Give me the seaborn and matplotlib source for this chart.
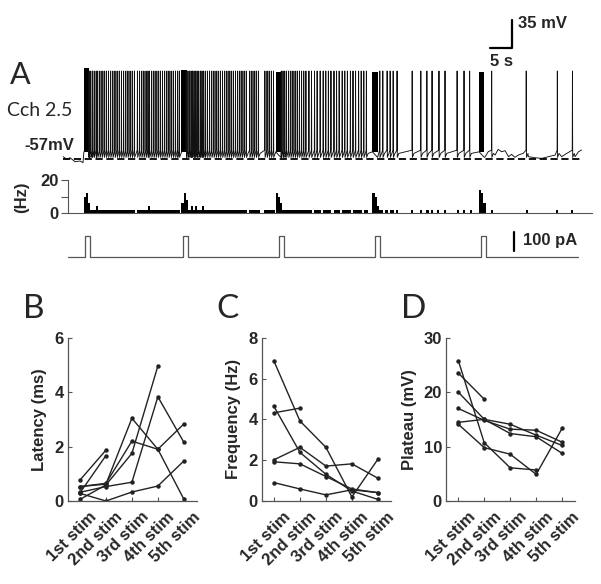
import numpy as np
import pandas as pd
import matplotlib
matplotlib.use("Agg")
import matplotlib.pyplot as plt
import seaborn as sns

sns.set_style("ticks")
plt.rcParams["font.family"] = ["Liberation Sans", "DejaVu Sans"]

# ---------------- data: panel A (times in s, voltage in mV) ----------------
stim_on = [0.5, 23.1, 45.3, 67.6, 92.1]
stim_dur = 1.2
stim_amp = 110           # pA
stim_span = [-3.5, 114.6]

burst_on = [0.2, 22.8, 44.6, 67.0, 91.7]
burst_dur = 1.2
burst_top = [57, 54, 52, 52, 52]
# firing rate (Hz) in 0.5 s bins during each burst
burst_rates = [[10, 12, 6], [6, 12, 8], [12, 10, 6], [12, 10, 4], [14, 12, 6]]

seg1 = [1.4, 1.8, 2.2, 2.6, 3.05, 3.4, 3.9, 4.4, 4.9, 5.4, 5.9, 6.4, 6.9, 7.4,
        7.9, 8.4, 8.9, 9.4, 9.9, 10.4, 10.9, 11.4, 11.9, 12.6, 13.1, 13.6, 14.1,
        14.6, 15.05, 15.4, 15.9, 16.4, 16.9, 17.4, 17.9, 18.4, 18.9, 19.4, 19.9,
        20.4, 20.9, 21.4, 21.9, 22.3]
seg2 = [23.9, 24.3, 24.7, 25.05, 25.35, 25.7, 26.05, 26.4, 26.8, 27.2, 27.55,
        27.9, 28.3, 28.8, 29.3, 29.8, 30.3, 30.8, 31.3, 31.8, 32.3, 32.8, 33.3,
        33.8, 34.3, 34.8, 35.3, 35.8, 36.3, 36.8, 37.3, 37.8, 38.6, 39.1, 39.6,
        40.1, 40.6, 42.1, 42.6, 43.1, 43.6, 44.1]
seg3 = [45.9, 46.3, 46.7, 47.1, 47.6, 48.1, 48.6, 49.1, 49.6, 50.1, 50.6, 51.1,
        51.6, 52.3, 52.9, 53.6, 54.2, 54.9, 55.6, 56.2, 56.8, 57.4, 58.1, 58.7,
        59.3, 60.0, 60.6, 61.2, 61.9, 62.5, 63.1, 63.8, 64.4, 65.0, 65.6]
seg4 = [68.7, 69.4, 70.4, 71.1, 71.8, 72.7, 76.2, 78.2, 79.6, 80.8, 82.4, 83.8,
        86.6, 88.2, 89.5]
seg5 = [94.6, 102.6, 109.8, 113.3]
spike_peak = 53
rest_mv = -57

pre_t = [-4.56, -3.78, -3.0, -1.85, -0.69, 0.0]
pre_v = [-54.1, -57.4, -55.4, -60.4, -59.5, -61.6]
tail_t = [93.1, 93.8, 95.4, 96.1, 96.9, 97.7, 98.5, 99.2, 100.0, 100.8, 101.9,
          103.1, 104.6, 106.2, 107.7, 109.3, 110.8, 112.0, 113.9, 114.7, 115.4]
tail_v = [-54.1, -47.9, -52.0, -44.9, -47.9, -46.6, -54.1, -51.2, -54.9, -52.0,
          -49.9, -54.1, -55.4, -56.2, -54.1, -52.0, -54.1, -49.9, -54.1, -47.9,
          -45.8]

# ---------------- data: panels B-D ----------------
stims = ["1st stim", "2nd stim", "3rd stim", "4th stim", "5th stim"]
nan = np.nan
latency = [
    [0.77, 1.87, nan, nan, nan],
    [0.30, 1.67, nan, nan, nan],
    [0.53, 0.62, 3.04, 1.90, 0.07],
    [0.06, 0.59, 1.75, 4.96, nan],
    [0.53, 0.65, 2.20, 1.90, 2.83],
    [0.32, 0.53, 0.69, 3.83, 2.16],
    [0.28, 0.00, 0.33, 0.55, 1.47],
]
frequency = [
    [4.32, 4.55, nan, nan, nan],
    [6.85, 3.92, 2.63, 0.20, 2.04],
    [4.63, 2.38, 1.31, 0.49, 0.08],
    [2.02, 2.63, 1.71, 1.82, 1.12],
    [1.92, 1.82, 1.20, 0.59, 0.41],
    [0.90, 0.59, 0.30, 0.55, 0.41],
]
plateau = [
    [23.5, 18.7, nan, nan, nan],
    [25.8, 10.7, 6.1, 5.7, nan],
    [14.1, 9.8, 8.6, 4.9, 13.35],
    [20.0, 15.0, 14.1, 12.1, 10.2],
    [17.0, 14.8, 13.2, 13.0, 10.8],
    [14.45, 15.0, 12.4, 11.8, 8.76],
]

# ---------------- layout helpers (pixels -> figure fractions) ----------------
W, H = 601, 584
fig = plt.figure(figsize=(W / 100, H / 100), dpi=100)


def rect(x0, y0, x1, y1):
    return [x0 / W, 1 - y1 / H, (x1 - x0) / W, (y1 - y0) / H]


def tlim(x0, x1):
    # time axis: t=0 at x=83 px, 4.32 px per second
    return ((x0 - 83) / 4.32, (x1 - 83) / 4.32)


bold = dict(fontweight="bold", fontsize=12)

# ---------------- A: voltage trace ----------------
ax_v = fig.add_axes(rect(60, 15, 592, 168))
spikes = sorted(seg1 + seg2 + seg3 + seg4 + seg5)
verts = list(zip(pre_t, pre_v)) + list(zip(tail_t, tail_v))
for on in burst_on:
    verts += [(on, -48), (on + burst_dur, -55)]
for i, t in enumerate(spikes):
    isi = spikes[i + 1] - t if i + 1 < len(spikes) else 1.0
    rec = min(0.4, 0.6 * isi)
    verts += [(t - 0.05, -46), (t, spike_peak), (t + 0.05, -55), (t + rec, -50)]
verts.sort()
trace = pd.DataFrame(verts, columns=["t", "mv"])
ax_v.plot(trace["t"], trace["mv"], color="#111", lw=0.65)
for on, top in zip(burst_on, burst_top):
    ax_v.fill_between([on, on + burst_dur], -48, top, color="black", lw=0)
ax_v.plot([pre_t[0], tail_t[-1]], [rest_mv, rest_mv], color="black", lw=1.3,
          ls=(0, (4, 2)))
# scale bars 5 s / 35 mV
ax_v.plot([94.3, 99.3, 99.3], [81.75, 81.75, 116.75], color="black", lw=1.6)
ax_v.set_xlim(*tlim(60, 592))
ax_v.set_ylim(-68.25, 123)
ax_v.axis("off")

# ---------------- A: rate histogram ----------------
ax_h = fig.add_axes(rect(68, 180, 592, 213))
edges = np.arange(-5, 118, 0.5)
counts, _ = np.histogram(spikes, edges)
rate = counts / 0.5
m = rate > 0
ax_h.bar(edges[:-1][m], rate[m], width=0.5, align="edge", color="black", lw=0)
for on, rates in zip(burst_on, burst_rates):
    ax_h.bar(on + 0.5 * np.arange(len(rates)), rates, width=0.5, align="edge",
             color="black", lw=0)
ax_h.set_xlim(*tlim(68, 592))
ax_h.set_ylim(0, 20)
ax_h.set_yticks([0, 10, 20], ["0", "", "20"], **bold)
ax_h.set_xticks([])
ax_h.tick_params(axis="y", direction="out", length=5, width=0.8, color="#555",
                 pad=2)
sns.despine(ax=ax_h)
for s in ["left", "bottom"]:
    ax_h.spines[s].set_color("#555")
    ax_h.spines[s].set_linewidth(0.8)

# ---------------- A: stimulus ----------------
ax_s = fig.add_axes(rect(60, 225, 592, 262))
st_t = [stim_span[0]]
st_i = [0]
for on in stim_on:
    st_t += [on, on, on + stim_dur, on + stim_dur]
    st_i += [0, stim_amp, stim_amp, 0]
st_t.append(stim_span[1])
st_i.append(0)
ax_s.plot(st_t, st_i, color="#555", lw=0.9)
ax_s.plot([99.77, 99.77], [33, 133], color="black", lw=1.6)
ax_s.set_xlim(*tlim(60, 592))
ax_s.set_ylim(-26.3, 168.4)
ax_s.axis("off")

# ---------------- A: labels ----------------
fig.text(10 / W, 1 - 84 / H, "A", fontsize=22, family=["Lato", "DejaVu Sans"])
fig.text(7 / W, 1 - 111 / H, "Cch 2.5", fontsize=14, va="center",
         family=["Lato", "DejaVu Sans"])
fig.text(24 / W, 1 - 145 / H, "-57mV", va="center", **bold)
fig.text(22 / W, 1 - 197 / H, "(Hz)", rotation=90, ha="center", va="center",
         **bold)
fig.text(518 / W, 1 - 23 / H, "35 mV", va="center", **bold)
fig.text(490 / W, 1 - 61 / H, "5 s", va="center", **bold)
fig.text(523 / W, 1 - 241 / H, "100 pA", va="center", **bold)

# ---------------- B-D ----------------
panels = [
    ("B", latency, "Latency (ms)", [0, 2, 4, 6], 67.8),
    ("C", frequency, "Frequency (Hz)", [0, 2, 4, 6, 8], 261.8),
    ("D", plateau, "Plateau (mV)", [0, 10, 20, 30], 446.1),
]
for letter, vals, ylab, yt, x0 in panels:
    ax = fig.add_axes(rect(x0, 337.7, x0 + 129, 501))
    rows = []
    for c, series in enumerate(vals):
        for k, v in enumerate(series):
            rows.append({"cell": c, "x": k, "val": v})
    df = pd.DataFrame(rows).dropna()
    sns.lineplot(data=df, x="x", y="val", units="cell", estimator=None,
                 color="#222", lw=1.0, marker="o", markersize=3.2,
                 markeredgewidth=0, legend=False, ax=ax)
    ax.set_xlim(-0.47, 4.5)
    ax.set_ylim(yt[0], yt[-1])
    ax.set_yticks(yt, [str(v) for v in yt], **bold)
    ax.set_xticks(range(len(stims)))
    ax.set_xticklabels([])
    for k, name in enumerate(stims):
        ax.annotate(name, xy=(k, 0), xycoords=("data", "axes fraction"),
                    xytext=(6.5, -6), textcoords="offset points", rotation=45,
                    ha="right", va="top", rotation_mode="anchor", **bold)
    ax.set_xlabel("")
    ax.set_ylabel(ylab, labelpad=5, **bold)
    ax.tick_params(direction="in", length=3, width=0.8, color="#555", pad=3)
    sns.despine(ax=ax)
    for s in ["left", "bottom"]:
        ax.spines[s].set_color("#555")
        ax.spines[s].set_linewidth(0.9)
    fig.text((x0 - 45) / W, 1 - 318 / H, letter, fontsize=24,
             family=["Lato", "DejaVu Sans"])

fig.savefig("out.png", dpi=100)
